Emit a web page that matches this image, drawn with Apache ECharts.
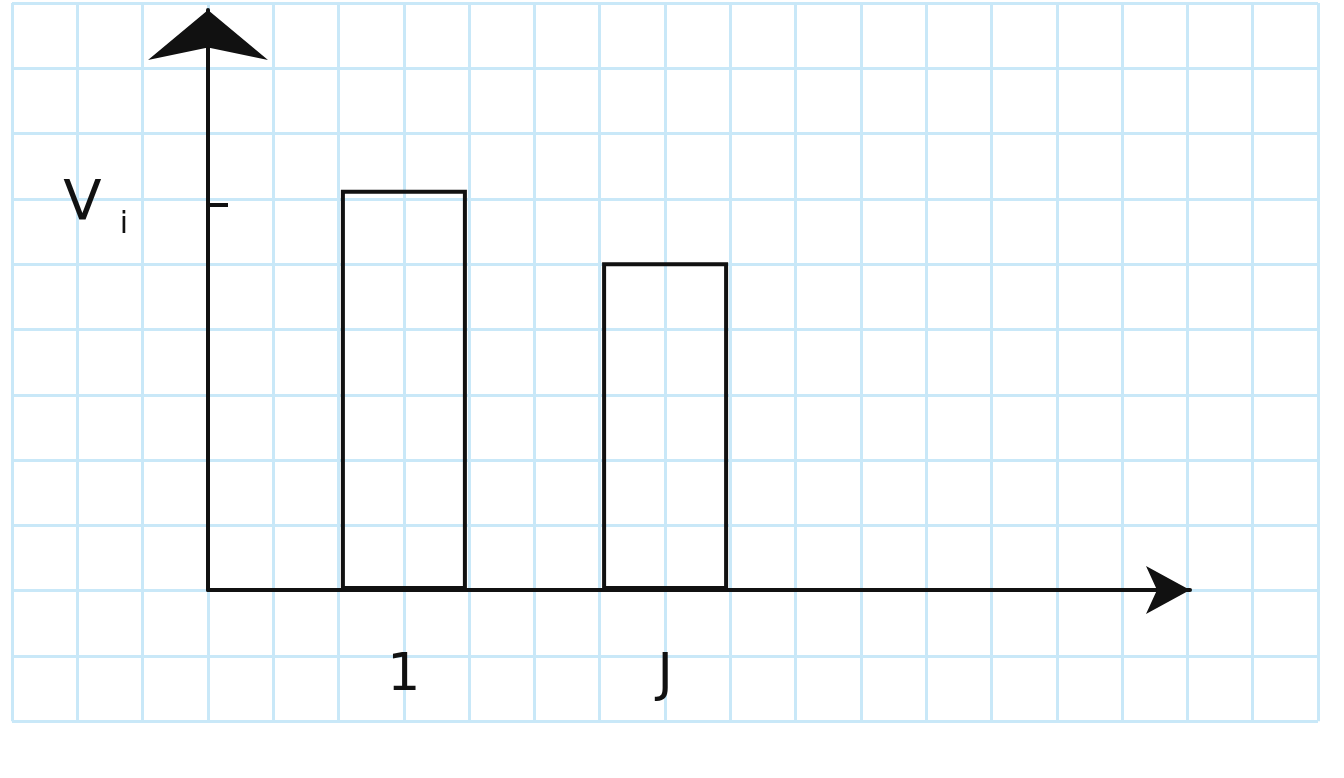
<!DOCTYPE html>
<html><head><meta charset="utf-8">
<script src="https://cdn.jsdelivr.net/npm/echarts@6/dist/echarts.min.js"></script>
<style>html,body{margin:0;padding:0;background:#fff}#c{width:1344px;height:778px}</style>
</head><body><div id="c"></div>
<script>
// sketch data
const positions = [3, 7];
const values = [6.13, 5.02];
const xLabels = {3: '1', 7: 'J'};
const yTick = [5.9];

const cell = 65.3;
const ink = '#111';
const paper = '#c9e8f8';

const chart = echarts.init(document.getElementById('c'));
chart.setOption({
  backgroundColor: '#fff',
  animation: false,
  grid: [
    {left: 12, top: 3, width: 20 * cell, height: 11 * cell},
    {left: 208, top: 10, right: 154, bottom: 188}
  ],
  xAxis: [
    {gridIndex: 0, type: 'value', min: 0, max: 20, interval: 1,
     axisLine: {show: false}, axisTick: {show: false}, axisLabel: {show: false},
     splitLine: {lineStyle: {color: paper, width: 3}}},
    {gridIndex: 1, type: 'value', min: 0, max: 982 / cell,
     axisLine: {lineStyle: {color: ink, width: 4}, symbol: ['none', 'arrow'], symbolSize: [36, 44]},
     axisTick: {show: false},
     splitLine: {show: false},
     axisLabel: {customValues: positions, formatter: v => xLabels[Math.round(v)] || '',
       color: ink, fontSize: 52, fontFamily: 'DejaVu Sans', margin: 60}}
  ],
  yAxis: [
    {gridIndex: 0, type: 'value', min: 0, max: 11, interval: 1,
     axisLine: {show: false}, axisTick: {show: false}, axisLabel: {show: false},
     splitLine: {lineStyle: {color: paper, width: 3}}},
    {gridIndex: 1, type: 'value', min: 0, max: 580 / cell,
     axisLine: {show: true, lineStyle: {color: ink, width: 4}, symbol: ['none', 'arrow'], symbolSize: [90, 50]},
     axisTick: {show: true, customValues: yTick, inside: true, length: 20, lineStyle: {color: ink, width: 4}},
     splitLine: {show: false},
     axisLabel: {customValues: yTick, formatter: () => '{v|V}{s|i}', margin: 80,
       rich: {v: {fontSize: 56, color: ink, fontFamily: 'DejaVu Sans'},
              s: {fontSize: 30, color: ink, fontFamily: 'DejaVu Sans', padding: [40, 0, 0, 18]}}}}
  ],
  series: [{
    type: 'bar', xAxisIndex: 1, yAxisIndex: 1, barWidth: 126,
    data: positions.map((p, i) => [p, values[i]]),
    itemStyle: {color: 'rgba(0,0,0,0)', borderColor: ink, borderWidth: 4}
  }]
});
</script></body></html>
